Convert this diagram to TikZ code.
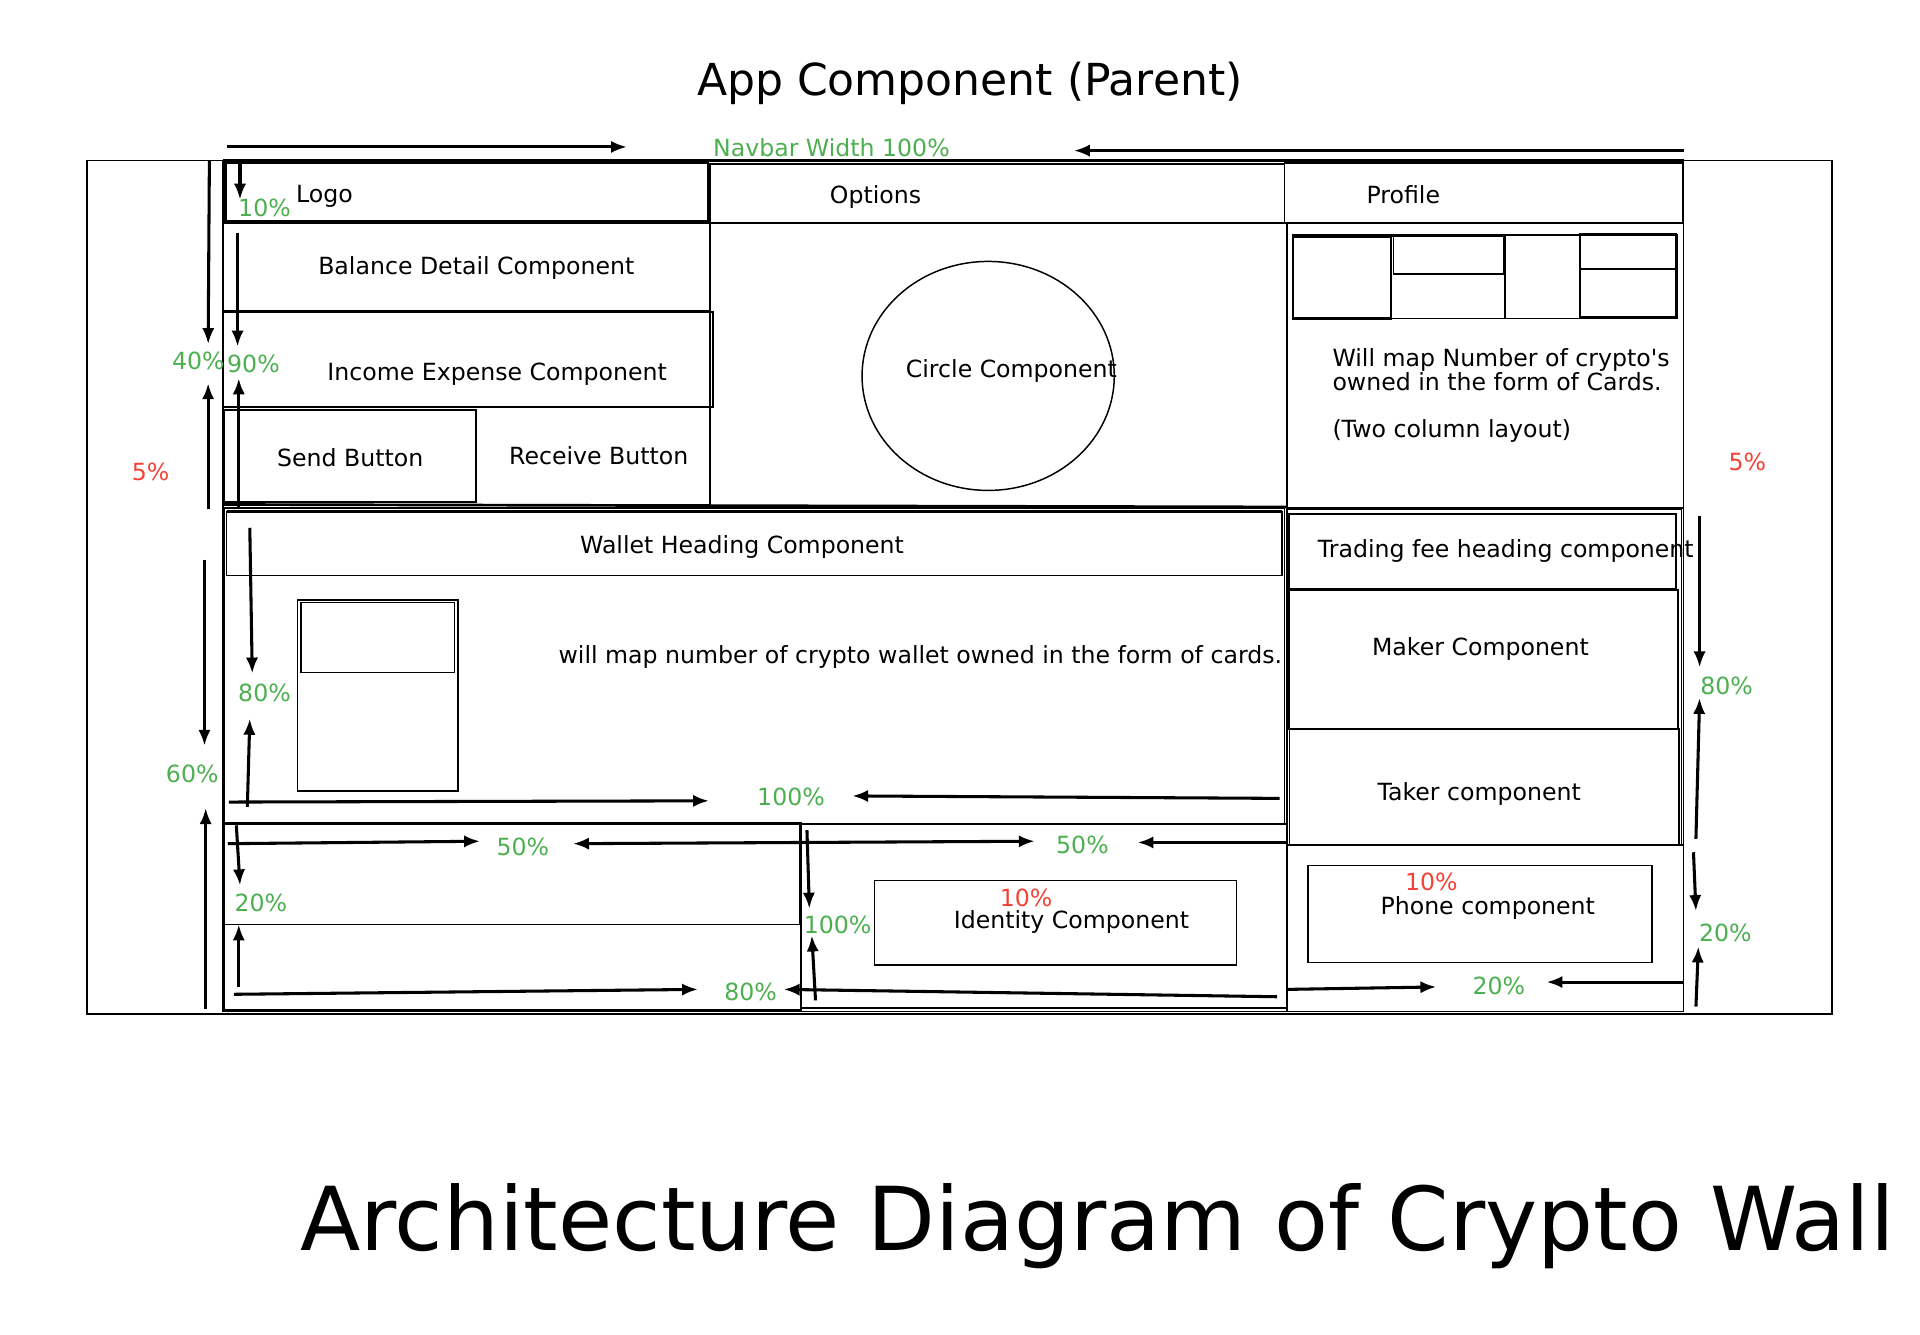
\documentclass[tikz,border=0pt]{standalone}
\usepackage{fontspec}
\setmainfont{DejaVu Sans}[Ligatures=TeXOff]
\usetikzlibrary{arrows.meta,fit,shapes.geometric}
\definecolor{pgreen}{HTML}{4CAF50}
\definecolor{pred}{HTML}{F44336}
\tikzset{
  arr/.style={line width=2.5pt, -{Latex[length=13pt,width=10pt]}},
  darr/.style={line width=2.5pt, {Latex[length=13pt,width=10pt]}-{Latex[length=13pt,width=10pt]}},
  bx/.style={draw, line width=1.2pt, inner sep=0pt, outer sep=0pt},
  hv/.style={line width=2.2pt},
  lbl/.style={inner sep=0pt, text height=14pt, text depth=0pt, font=\fontsize{19.3}{23}\selectfont},
  pct/.style={lbl, text=pgreen},
  rpct/.style={lbl, text=pred},
}
\newcommand\bxn[4][]{\node[bx, fit={(#3) (#4)}, #1] (#2) {};}
\newcommand\dimarr[4][arr]{\coordinate (#2-s) at (#3); \coordinate (#2-e) at (#4); \draw[#1] (#2-s) -- (#2-e);}
\begin{document}
\begin{tikzpicture}[x=1pt,y=-1pt]
\useasboundingbox (0,0) rectangle (1568,1090);
% titles
\node[lbl, font=\fontsize{36}{40}\selectfont, text height=26pt] (title) at (792,65) {App Component (Parent)};
\node[inner sep=0pt, anchor=base west, font=\fontsize{72}{80}\selectfont] (bigtitle) at (245,1021) {Architecture Diagram of Crypto Wall};
% outer frames
\bxn{outer}{71,131}{1496,828}
\bxn{cont}{182,131}{1375,826}
\draw[hv] (cont.north west) -- (cont.north east);
% navbar
\bxn[line width=2pt]{logo}{184,133}{578,181}
\bxn{options}{580,134}{1049,182}
\bxn{profile}{1049,133}{1374,182}
\draw[hv] (options.south west) -- (options.south east);
% left column
\bxn{leftcol}{182,182}{580,412}
\bxn[line width=1.6pt]{balance}{182,182}{580,254}
\bxn[line width=1.6pt]{income}{182,255}{582,332}
\bxn[line width=1.6pt]{send}{183,335}{389,410}
% middle column
\bxn{midcol}{580,182}{1051,414}
\draw[hv] (leftcol.south west) -- (midcol.south east);
\node[draw, ellipse, line width=1.2pt, minimum width=206pt, minimum height=187pt, inner sep=0pt] (circ) at (807,307) {};
% right column top
\bxn{rightcol}{1051,182}{1375,415}
\bxn{cards}{1056,192}{1370,260}
\bxn[line width=2pt]{cardA}{1056,193}{1136,260}
\bxn{cardB}{1136,193}{1229,260}
\bxn[line width=1.6pt]{cardBt}{1138,193}{1228,224}
\bxn[line width=1.6pt]{cardC}{1290,191}{1369,259}
\draw[line width=1.6pt] (1290,220) coordinate (cCl) -- (1369,220) coordinate (cCr);
% wallet section
\bxn[line width=1.6pt]{wallet}{183,415}{1049,673}
\bxn[line width=1.4pt]{wallethead}{185,418}{1047,470}
\draw[hv] (wallethead.north west) -- (wallethead.north east);
\bxn{wcard}{243,490}{374,646}
\bxn{wcardt}{246,492}{371,549}
% trading section
\bxn{trade}{1051,416}{1373,690}
\bxn[line width=1.6pt]{tradehead}{1053,420}{1369,481}
\bxn[line width=1.6pt]{maker}{1053,482}{1370,595}
\bxn{taker}{1053,595}{1371,690}
% bottom section
\bxn[line width=1.6pt]{botleft}{183,672}{654,825}
\draw[hv] (botleft.north west) -- (botleft.north east);
\bxn{botleftin}{183,672}{653,755}
\bxn{botmid}{654,673}{1051,823}
\bxn{identity}{714,719}{1010,788}
\bxn{botright}{1051,690}{1375,826}
\bxn{phone}{1068,707}{1349,786}
% texts
\node[lbl] (tlogo) at (265,158) {Logo};
\node[lbl] (toptions) at (715,159) {Options};
\node[lbl] (tprofile) at (1146,159) {Profile};
\node[lbl] (tbalance) at (389,217) {Balance Detail Component};
\node[lbl] (tincome) at (406,304) {Income Expense Component};
\node[lbl] (tcircle) at (826,301) {Circle Component};
\node[lbl] (tsend) at (286,374) {Send Button};
\node[lbl] (treceive) at (489,372) {Receive Button};
\node[lbl, anchor=west] (tmap1) at (1088,292) {Will map Number of crypto's};
\node[lbl, anchor=west] (tmap2) at (1088,312) {owned in the form of Cards.};
\node[lbl, anchor=west] (tmap3) at (1088,350) {(Two column layout)};
\node[lbl] (twallet) at (606,445) {Wallet Heading Component};
\node[lbl, anchor=west] (twmap) at (456,535) {will map number of crypto wallet owned in the form of cards.};
\node[lbl, anchor=west] (ttrade) at (1076,448) {Trading fee heading component};
\node[lbl] (tmaker) at (1209,528) {Maker Component};
\node[lbl] (ttaker) at (1208,647) {Taker component};
\node[lbl] (tidentity) at (875,751) {Identity Component};
\node[lbl] (tphone) at (1215,740) {Phone component};
% percentage labels
\node[pct] (pnav) at (679,121) {Navbar Width 100\%};
\node[pct] (p10) at (216,170) {10\%};
\node[pct] (p40) at (162,295) {40\%};
\node[pct] (p90) at (207,297) {90\%};
\node[pct] (p80w) at (216,566) {80\%};
\node[pct] (p60) at (157,632) {60\%};
\node[pct] (p100h) at (646,651) {100\%};
\node[pct] (p50a) at (427,692) {50\%};
\node[pct] (p50b) at (884,690) {50\%};
\node[pct] (p20l) at (213,737) {20\%};
\node[pct] (p80b) at (613,810) {80\%};
\node[pct] (p100v) at (684,755) {100\%};
\node[pct] (p20b) at (1224,805) {20\%};
\node[pct] (p80r) at (1410,560) {80\%};
\node[pct] (p20r) at (1409,762) {20\%};
\node[rpct] (r5l) at (123,385) {5\%};
\node[rpct] (r5r) at (1427,377) {5\%};
\node[rpct] (r10i) at (838,733) {10\%};
\node[rpct] (r10p) at (1169,720) {10\%};
% dimension arrows
\dimarr{nv1}{185,120}{512,120}
\dimarr{nv2}{1375,123}{877,123}
\dimarr{t1}{196,133}{196,163}
\dimarr{f1}{171,131}{170,281}
\dimarr{f2}{170,416}{170,313}
\dimarr{g1}{194,190}{194,283}
\dimarr{g2}{195,415}{195,309}
\dimarr{w1}{204,431}{206,550}
\dimarr{w2}{202,659}{204,587}
\dimarr{s1}{167,457}{167,609}
\dimarr{s2}{168,824}{168,660}
\dimarr{h1}{187,655}{579,654}
\dimarr{h2}{1045,652}{696,650}
\dimarr{a1}{186,689}{392,687}
\dimarr[darr]{a2}{468,689}{845,687}
\dimarr{a3}{1051,688}{929,688}
\dimarr{b1}{193,674}{196,723}
\dimarr{b2}{195,806}{195,755}
\dimarr{c1}{191,812}{570,808}
\dimarr{c2}{1043,814}{640,808}
\dimarr{d1}{659,678}{661,742}
\dimarr{d2}{666,817}{663,764}
\dimarr{e1}{1051,808}{1173,806}
\dimarr{e2}{1375,802}{1263,802}
\dimarr{r1}{1388,421}{1388,545}
\dimarr{r2}{1385,685}{1388,570}
\dimarr{q1}{1383,696}{1385,744}
\dimarr{q2}{1385,822}{1387,773}
\end{tikzpicture}
\end{document}
